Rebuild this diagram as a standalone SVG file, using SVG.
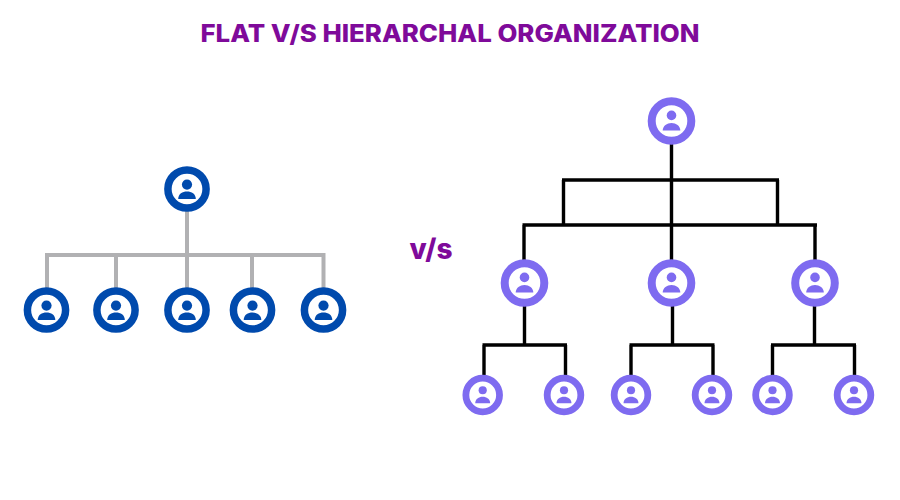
<svg xmlns="http://www.w3.org/2000/svg" width="900" height="500" viewBox="0 0 900 500">
<style>
.t{font-family:"Inter","Open Sans","Liberation Sans",sans-serif;font-weight:800;fill:#7f0a9a}
.grey{fill:none;stroke:#b1b1b3;stroke-width:4}
.black{fill:none;stroke:#000;stroke-width:3.4}
.blue{color:#004aad}
.purple{color:#7e6bf0}
</style>
<defs>
<g id="person">
<circle r="19.1" fill="#fff" stroke="currentColor" stroke-width="7.5"/>
<circle cy="-4.4" r="5.1" fill="currentColor"/>
<path d="M-8.8 10 C-8.8 5 -4.500 2.600 0 2.600 C4.500 2.600 8.800 5 8.800 10 Z" fill="currentColor"/>
</g>
<g id="person-p">
<circle r="19.8" fill="#fff" stroke="currentColor" stroke-width="8"/>
<circle cy="-5.600" r="4.800" fill="currentColor"/>
<path d="M-8.800 9.600 C-8.800 4.800 -4.500 2 0 2 C4.500 2 8.800 4.800 8.800 9.600 Z" fill="currentColor"/>
</g>
</defs>
<rect width="900" height="500" fill="#fff"/>
<text id="title" class="t" x="450" y="41.500" font-size="24" text-anchor="middle" textLength="499" lengthAdjust="spacingAndGlyphs">FLAT V/S HIERARCHAL ORGANIZATION</text>
<text id="vs" class="t" x="431" y="259" font-size="28" text-anchor="middle">v/s</text>
<g id="connectors">
<path class="grey" d="M187 205V255M45 255H325.500M47 255V295M116 255V295M187 255V295M252 255V295M323.500 255V295"/>
<path class="black" d="M671.500 140V265M562 180H779M563.500 180V225M777.500 180V225M522.500 225H817M524 225V265M815 225V265"/>
<path class="black" d="M524.500 300V345M482.500 345H567M484 345V380M565.500 345V380"/>
<path class="black" d="M672.500 300V345M629.500 345H714.500M631 345V380M713 345V380"/>
<path class="black" d="M814.500 300V345M771 345H856M772.500 345V380M854.500 345V380"/>
</g>
<g id="flat-top" class="blue"><use href="#person" transform="translate(187 189)"/></g>
<g id="flat-1" class="blue"><use href="#person" transform="translate(46.500 310)"/></g>
<g id="flat-2" class="blue"><use href="#person" transform="translate(116 310)"/></g>
<g id="flat-3" class="blue"><use href="#person" transform="translate(187 310)"/></g>
<g id="flat-4" class="blue"><use href="#person" transform="translate(252.500 310)"/></g>
<g id="flat-5" class="blue"><use href="#person" transform="translate(323.500 310)"/></g>
<g id="h-root" class="purple"><use href="#person-p" transform="translate(671.500 121)"/></g>
<g id="h-m1" class="purple"><use href="#person-p" transform="translate(524.500 283)"/></g>
<g id="h-m2" class="purple"><use href="#person-p" transform="translate(671.500 283)"/></g>
<g id="h-m3" class="purple"><use href="#person-p" transform="translate(815 283)"/></g>
<g id="h-l1" class="purple"><use href="#person-p" transform="translate(482.700 395) scale(0.85)"/></g>
<g id="h-l2" class="purple"><use href="#person-p" transform="translate(564 395) scale(0.85)"/></g>
<g id="h-l3" class="purple"><use href="#person-p" transform="translate(631 395) scale(0.85)"/></g>
<g id="h-l4" class="purple"><use href="#person-p" transform="translate(712 395) scale(0.85)"/></g>
<g id="h-l5" class="purple"><use href="#person-p" transform="translate(772.500 395) scale(0.85)"/></g>
<g id="h-l6" class="purple"><use href="#person-p" transform="translate(854 395) scale(0.85)"/></g>
</svg>
